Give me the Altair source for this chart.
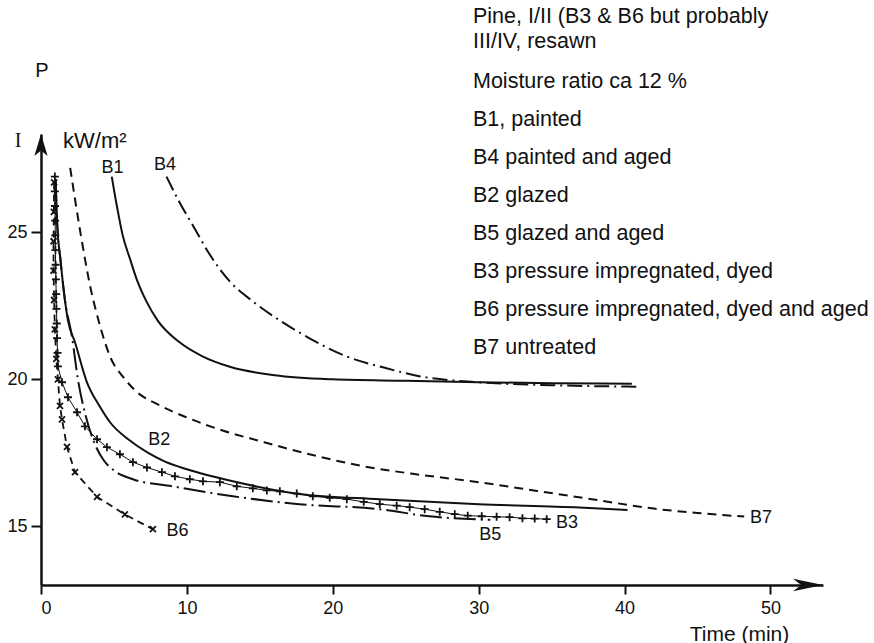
import altair as alt
import pandas as pd

# Incident heat flux (kW/m²) needed for ignition versus time to ignition (min)
b1_t = [4.85, 5.2, 5.6, 6.1, 6.6, 7.26, 8.0, 9.5, 11.0, 13.0, 16.0, 20.0, 25.0, 30.0, 35.0, 40.5]
b1_v = [26.9, 25.9, 24.9, 24.1, 23.35, 22.62, 22.0, 21.26, 20.8, 20.42, 20.14, 20.0, 19.95, 19.9,
        19.87, 19.85]

b4_t = [8.6, 9.5, 10.5, 11.5, 13.0, 14.5, 16.5, 18.5, 21.0, 23.5, 26.0, 30.0, 35.0, 40.8]
b4_v = [26.9, 26.02, 25.16, 24.3, 23.3, 22.66, 21.96, 21.37, 20.77, 20.4, 20.1, 19.9, 19.8, 19.75]

b7_t = [2.0, 2.7, 3.4, 4.0, 4.8, 5.6, 6.5, 8.0, 10.0, 12.5, 15.0, 18.0, 22.0, 26.0, 30.0,
        34.0, 38.0, 42.0, 45.0, 48.2]
b7_v = [27.2, 25.0, 23.1, 21.9, 20.7, 20.1, 19.6, 19.15, 18.7, 18.25, 17.9, 17.5, 17.05, 16.75,
        16.5, 16.2, 15.9, 15.6, 15.45, 15.33]

b2_t = [1.0, 1.1, 1.35, 1.64, 1.85, 2.33, 3.15, 4.0, 4.73, 6.0, 7.26, 8.5, 10.0, 13.15, 17.7,
        23.2, 30.0, 36.9, 40.2]
b2_v = [26.8, 25.4, 24.0, 22.7, 22.0, 21.26, 19.9, 19.1, 18.54, 17.95, 17.52, 17.2, 16.94,
        16.53, 16.1, 15.92, 15.75, 15.64, 15.55]

b5_t = [1.0, 1.1, 1.35, 1.64, 2.12, 2.53, 3.0, 3.56, 4.25, 5.0, 6.3, 9.0, 13.15, 17.7, 23.2,
        26.6, 30.8]
b5_v = [26.8, 25.4, 24.0, 22.7, 21.46, 20.0, 18.88, 17.96, 17.28, 16.9, 16.6, 16.36, 16.02,
        15.75, 15.58, 15.34, 15.22]

b3_t = [0.95, 0.95, 0.96, 0.97, 0.98, 0.99, 1.0, 1.02, 1.04, 1.06, 1.08, 1.1, 1.13, 1.16,
        1.44, 1.85, 2.47, 3.01, 3.84, 4.52, 5.41, 6.3, 7.26, 8.29, 9.18,
        10.2, 11.1, 12.26, 13.42, 14.52, 15.48,
        16.37, 17.53, 18.63, 19.79, 20.96, 22.12, 23.22, 24.38, 25.27, 26.3, 27.33, 28.36,
        29.25, 30.21, 31.23, 32.12, 33.0, 33.84, 34.66]
b3_v = [26.9, 26.4, 25.9, 25.4, 24.9, 24.4, 23.9, 23.4, 22.9, 22.4, 21.9, 21.4, 20.9, 20.44,
        19.9, 19.39, 18.88, 18.4, 17.96, 17.69, 17.45, 17.18, 17.0, 16.84, 16.7,
        16.6, 16.53, 16.5, 16.36, 16.29, 16.22,
        16.19, 16.11, 16.02, 15.97, 15.92, 15.83, 15.75, 15.7, 15.65, 15.58, 15.49, 15.41,
        15.36, 15.34, 15.32, 15.31, 15.27, 15.26, 15.24]

b6_t = [0.9, 0.88, 0.86, 0.86, 0.9, 0.95, 1.05, 1.16, 1.3, 1.44, 1.78, 2.33, 3.84, 5.75, 7.67]
b6_v = [26.7, 25.7, 24.7, 23.7, 22.7, 21.7, 20.7, 20.0, 19.1, 18.64, 17.7, 16.84, 16.0, 15.4, 14.9]

curves = {
    "B1": (b1_t, b1_v), "B4": (b4_t, b4_v), "B7": (b7_t, b7_v), "B2": (b2_t, b2_v),
    "B5": (b5_t, b5_v), "B3": (b3_t, b3_v), "B6": (b6_t, b6_v),
}

# Curve labels
label_text = ["B1", "B4", "B2", "B6", "B5", "B3", "B7"]
label_t = [4.9, 8.5, 8.1, 8.6, 30.8, 35.3, 48.6]
label_v = [27.2, 27.3, 17.95, 14.85, 14.7, 15.1, 15.27]
label_align = ["center", "center", "center", "left", "center", "left", "left"]

# Specimen description block
header_lines = ["Pine, I/II (B3 & B6 but probably", "III/IV, resawn"]
legend_lines = ["Moisture ratio ca 12 %", "B1, painted", "B4 painted and aged", "B2 glazed",
                "B5 glazed and aged", "B3 pressure impregnated, dyed",
                "B6 pressure impregnated, dyed and aged", "B7 untreated"]

x_ticks = [0, 10, 20, 30, 40, 50]
y_ticks = [15, 20, 25]

X_MAX, Y_MIN, Y_MAX = 53.6, 13, 28.35
W, H = 782, 451
PAD_L, PAD_T = 41, 134
FONT = "Liberation Sans"
INK = "#111111"

rows = []
for name, (ts, vs) in curves.items():
    for i, (t, v) in enumerate(zip(ts, vs)):
        rows.append({"curve": name, "t": t, "v": v, "order": i})
df = pd.DataFrame(rows)

xs = alt.Scale(domain=[0, X_MAX], nice=False, zero=False)
ys = alt.Scale(domain=[Y_MIN, Y_MAX], nice=False, zero=False)
X = alt.X("t:Q", scale=xs, axis=alt.Axis(
    values=x_ticks, title="Time (min)", grid=False, tickSize=9, tickWidth=2,
    tickColor=INK, domainColor=INK, domainWidth=2.5, labelFont=FONT, labelFontSize=18,
    labelColor=INK, labelPadding=5, titleFont=FONT, titleFontSize=21, titleFontWeight="normal",
    titleColor=INK, titleX=698, titleY=55, titleAlign="center", titleBaseline="alphabetic"))
Y = alt.Y("v:Q", scale=ys, axis=alt.Axis(
    values=y_ticks, title=None, grid=False, tickSize=10, tickWidth=2, tickColor=INK,
    domainColor=INK, domainWidth=2.5, labelFont=FONT, labelFontSize=18, labelColor=INK,
    labelPadding=4))


def curve(name, **style):
    return (alt.Chart(df).transform_filter(alt.datum.curve == name)
            .mark_line(color=INK, **style)
            .encode(x=X, y=Y, order="order:Q"))


def markers(name, shape, **style):
    return (alt.Chart(df).transform_filter(alt.datum.curve == name)
            .mark_point(shape=shape, filled=False, color=INK, opacity=1, **style)
            .encode(x=X, y=Y))


layers = [
    curve("B1", strokeWidth=2, interpolate="monotone"),
    curve("B4", strokeWidth=2, strokeDash=[15, 5, 2, 5], interpolate="monotone"),
    curve("B7", strokeWidth=2, strokeDash=[9, 6], interpolate="monotone"),
    curve("B2", strokeWidth=2, interpolate="monotone"),
    curve("B5", strokeWidth=2, strokeDash=[22, 5, 2, 5], interpolate="monotone"),
    curve("B3", strokeWidth=1),
    markers("B3", "M -1 0 L 1 0 M 0 -1 L 0 1", size=64, strokeWidth=1.8),
    curve("B6", strokeWidth=1.8, strokeDash=[7, 5]),
    markers("B6", "M -1 -1 L 1 1 M -1 1 L 1 -1", size=36, strokeWidth=1.8),
]

# Arrowheads at the ends of both axes
arrows = pd.DataFrame({"t": [X_MAX, 0], "v": [Y_MIN, Y_MAX], "dir": ["x", "y"]})
layers.append(alt.Chart(arrows).transform_filter(alt.datum.dir == "x").mark_point(
    shape="M 0 0 L -2 -0.42 L -1.45 0 L -2 0.42 Z", filled=True, color=INK, opacity=1,
    size=900).encode(x=X, y=Y))
layers.append(alt.Chart(arrows).transform_filter(alt.datum.dir == "y").mark_point(
    shape="M 0 0 L -0.6 2 L 0 1.5 L 0.6 2 Z", filled=True, color=INK, opacity=1,
    size=484).encode(x=X, y=Y))

labels = pd.DataFrame({"text": label_text, "t": label_t, "v": label_v, "align": label_align})
for al in ["center", "left"]:
    layers.append(alt.Chart(labels).transform_filter(alt.datum.align == al).mark_text(
        align=al, baseline="middle", font=FONT, fontSize=18, color=INK
    ).encode(x=X, y=Y, text="text:N"))

# Description block on the right, positioned in pixels from the plot origin
note_x = 473 - PAD_L
note_rows = [{"text": s, "px": note_x, "py": b - PAD_T}
             for s, b in zip(header_lines, [23, 48])]
note_rows += [{"text": s, "px": note_x, "py": 88 + 38 * i - PAD_T}
              for i, s in enumerate(legend_lines)]
notes = pd.DataFrame(note_rows)
layers.append(alt.Chart(notes).mark_text(
    align="left", baseline="alphabetic", font=FONT, fontSize=21.5, color=INK
).encode(x=alt.X("px:Q", scale=None), y=alt.Y("py:Q", scale=None), text="text:N"))

# Y-axis annotations: quantity symbols and unit
ytitles = pd.DataFrame({
    "text": ["P", "kW/m²"], "px": [42 - PAD_L, 63 - PAD_L], "py": [77 - PAD_T, 148 - PAD_T],
    "size": [20, 22]})
for fs in [20, 22]:
    layers.append(alt.Chart(ytitles).transform_filter(alt.datum.size == fs).mark_text(
        align="left" if fs == 22 else "center", baseline="alphabetic", font=FONT,
        fontSize=fs, color=INK
    ).encode(x=alt.X("px:Q", scale=None), y=alt.Y("py:Q", scale=None), text="text:N"))
symbol_i = pd.DataFrame({"text": ["I"], "px": [18 - PAD_L], "py": [147 - PAD_T]})
layers.append(alt.Chart(symbol_i).mark_text(
    align="center", baseline="alphabetic", font="Liberation Serif", fontSize=20, color=INK
).encode(x=alt.X("px:Q", scale=None), y=alt.Y("py:Q", scale=None), text="text:N"))

chart = alt.layer(*layers).properties(
    width=W, height=H,
    autosize=alt.AutoSizeParams(type="none"),
    padding={"left": PAD_L, "top": PAD_T, "right": 874 - PAD_L - W, "bottom": 643 - PAD_T - H},
    background="white",
).configure_view(stroke=None)

chart.save("out.html", embed_options={"renderer": "svg", "actions": False})
